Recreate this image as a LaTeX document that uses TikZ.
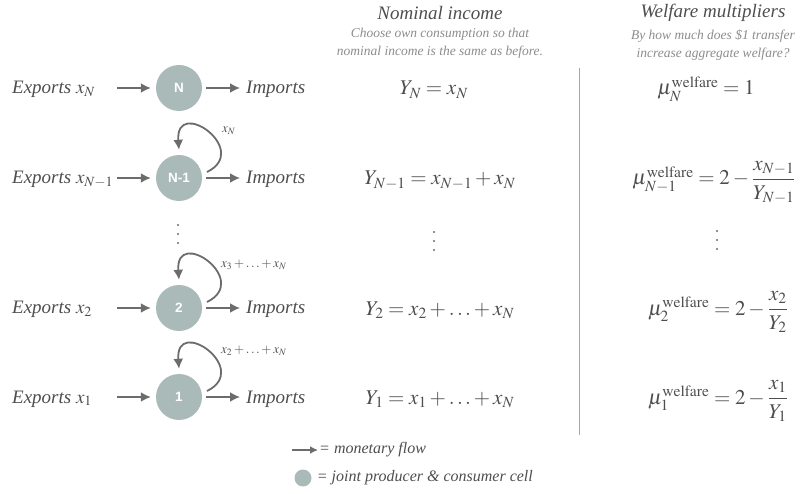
\documentclass[tikz,border=0pt]{standalone}
\usepackage{amsmath}
\usepackage{mathptmx}
\usepackage{fontspec}
\setmainfont{Liberation Serif}
\setsansfont{Liberation Sans}
\usepackage{tikz}
\usetikzlibrary{positioning}
\usetikzlibrary{arrows.meta}
\definecolor{cellgray}{HTML}{A9BAB9}
\definecolor{flowgray}{HTML}{6C6C6C}
\definecolor{textgray}{HTML}{4E4E4E}
\definecolor{subgray}{HTML}{8C8C8C}
\definecolor{rulegray}{HTML}{A6A6A6}
\tikzset{>={Latex[length=10pt,width=10pt]}}
\tikzstyle{cell} = [circle, fill=cellgray, minimum size=46pt, inner sep=0pt, text=white, font=\sffamily\bfseries\fontsize{13.5}{14}\selectfont]
\tikzstyle{flow} = [->, line width=1.8pt, draw=flowgray, color=flowgray]
\tikzstyle{lbl} = [draw=none, inner sep=1, text=textgray, font=\itshape\fontsize{19}{21}\selectfont]
\tikzstyle{eq} = [draw=none, inner sep=1, text=textgray, font=\fontsize{21}{25}\selectfont]
\tikzstyle{looplbl} = [draw=none, inner sep=1, text=textgray, font=\fontsize{13}{14}\selectfont, anchor=west]
\tikzstyle{head} = [draw=none, inner sep=1, text=textgray, font=\itshape\fontsize{19}{21}\selectfont]
\tikzstyle{sub} = [draw=none, inner sep=1, text=subgray, align=center, font=\itshape\fontsize{13.5}{18}\selectfont]
\tikzstyle{dot} = [circle, fill=flowgray, inner sep=0pt, minimum size=2.3pt]

\begin{document}
\begin{tikzpicture}[x=1pt, y=1pt]
\useasboundingbox (0,0) rectangle (808,493);
% cells
\node [cell] (cN) at (179, 405) {N};
\node [cell] (cN1) at (179, 315) {N-1};
\node [cell] (c2) at (179, 185) {2};
\node [cell] (c1) at (179, 96) {1};
% exports
\node [lbl, anchor=base west] (eN) at (11, 399) {Exports $x_N$};
\node [lbl, anchor=base west] (eN1) at (11, 309) {Exports $x_{N-1}$};
\node [lbl, anchor=base west] (e2) at (11, 179) {Exports $x_2$};
\node [lbl, anchor=base west] (e1) at (11, 90) {Exports $x_1$};
\coordinate (sN) at (117, 405);
\coordinate (sN1) at (117, 315);
\coordinate (s2) at (117, 185);
\coordinate (s1) at (117, 96);
% imports
\node [lbl, anchor=base west] (iN) at (245, 399) {Imports};
\node [lbl, anchor=base west] (iN1) at (245, 309) {Imports};
\node [lbl, anchor=base west] (i2) at (245, 179) {Imports};
\node [lbl, anchor=base west] (i1) at (245, 90) {Imports};
\draw [flow, shorten >=5pt] (sN) to (cN);
\draw [flow, shorten >=5pt] (sN1) to (cN1);
\draw [flow, shorten >=5pt] (s2) to (c2);
\draw [flow, shorten >=5pt] (s1) to (c1);
\draw [flow, shorten <=4pt, shorten >=5pt] (cN) to (iN.west |- cN);
\draw [flow, shorten <=4pt, shorten >=5pt] (cN1) to (iN1.west |- cN1);
\draw [flow, shorten <=4pt, shorten >=5pt] (c2) to (i2.west |- c2);
\draw [flow, shorten <=4pt, shorten >=5pt] (c1) to (i1.west |- c1);
% own consumption
\draw [flow] ([shift={(28pt,6pt)}]cN1.center) .. controls +(45,22) and +(-4,54) .. ([yshift=5pt]cN1.north);
\draw [flow] ([shift={(28pt,6pt)}]c2.center) .. controls +(45,22) and +(-4,54) .. ([yshift=5pt]c2.north);
\draw [flow] ([shift={(28pt,6pt)}]c1.center) .. controls +(45,22) and +(-4,54) .. ([yshift=5pt]c1.north);
\node [looplbl] (lN1) at ([shift={(42pt,47pt)}]cN1.center) {$x_N$};
\node [looplbl] (l2) at ([shift={(41pt,43pt)}]c2.center) {$x_3 + \ldots + x_N$};
\node [looplbl] (l1) at ([shift={(41pt,46pt)}]c1.center) {$x_2 + \ldots + x_N$};
% vertical dots
\foreach \x/\y/\n in {178/268/l, 434/261/m, 717/262/r}
  \foreach \k in {0, 1, 2}
    \node [dot] (d\n\k) at (\x, \y - 9*\k) {};
% nominal income
\node [head] (hY) at (440, 480) {Nominal income};
\node [sub, below=6pt of hY] (sY) {Choose own consumption so that\\ nominal income is the same as before.};
\node [eq, anchor=base] (yN) at (434, 398) {$Y_N = x_N$};
\node [eq, anchor=base] (yN1) at (440, 308) {$Y_{N-1} = x_{N-1} + x_N$};
\node [eq, anchor=base] (y2) at (440, 178) {$Y_2 = x_2 + \ldots + x_N$};
\node [eq, anchor=base] (y1) at (440, 89) {$Y_1 = x_1 + \ldots + x_N$};
% welfare multipliers
\node [head] (hM) at (713, 480) {Welfare multipliers};
\node [sub, below=6pt of hM] (sM) {By how much does \$1 transfer\\ increase aggregate welfare?};
\node [eq, anchor=base] (mN) at (706, 398) {$\mu_N^{\mathrm{welfare}} = 1$};
\node [eq, anchor=base] (mN1) at (714, 308) {$\mu_{N-1}^{\mathrm{welfare}} = 2 - \dfrac{x_{N-1}}{Y_{N-1}}$};
\node [eq, anchor=base] (m2) at (718, 178) {$\mu_2^{\mathrm{welfare}} = 2 - \dfrac{x_2}{Y_2}$};
\node [eq, anchor=base] (m1) at (718, 89) {$\mu_1^{\mathrm{welfare}} = 2 - \dfrac{x_1}{Y_1}$};
\draw [rulegray, line width=1pt] (579, 425) -- (579, 58);
% legend
\node [lbl, anchor=west, font=\itshape\fontsize{16}{18}\selectfont] (lgF) at (318, 43) {= monetary flow};
\coordinate (lgS) at (292, 43);
\draw [flow, -{Latex[length=8pt,width=8pt]}] (lgS) to (lgF.west);
\node [cell, minimum size=17pt] (lgC) at (303, 15) {};
\node [lbl, anchor=west, font=\itshape\fontsize{16}{18}\selectfont, right=4pt of lgC] (lgT) {= joint producer \& consumer cell};
\end{tikzpicture}
\end{document}
